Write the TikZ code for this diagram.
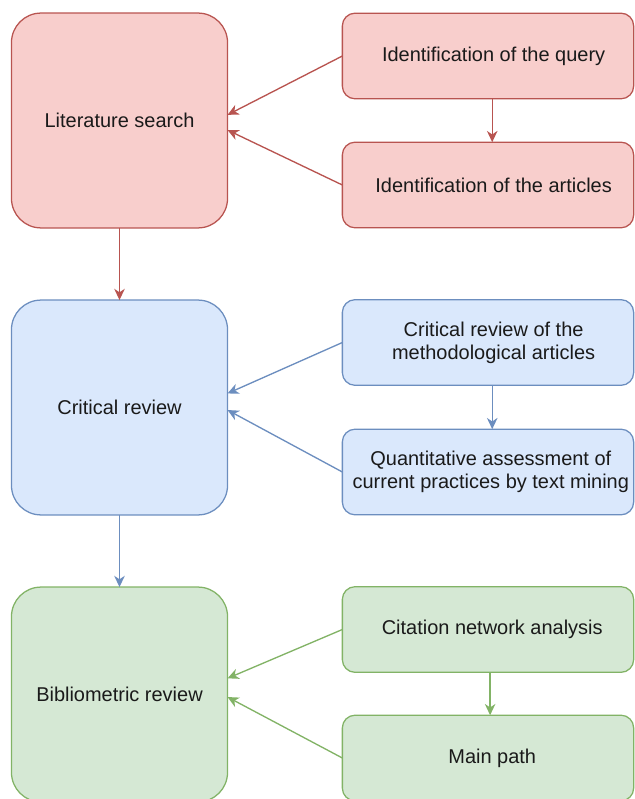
\documentclass[tikz,border=0pt]{standalone}
\usepackage{fontspec}
\setmainfont{Liberation Sans}
\usetikzlibrary{positioning,arrows.meta}
\definecolor{redFill}{HTML}{F8CECC}
\definecolor{redLine}{HTML}{B85450}
\definecolor{blueFill}{HTML}{DAE8FC}
\definecolor{blueLine}{HTML}{6C8EBF}
\definecolor{greenFill}{HTML}{D5E8D4}
\definecolor{greenLine}{HTML}{82B366}
\definecolor{txt}{HTML}{1A1A1A}
\tikzset{
    stageBox/.style={draw, line width=0.9pt, rounded corners=21pt, minimum width=5.4cm, minimum height=5.37cm,
        inner sep=0pt, outer sep=0pt, text=txt, font=\fontsize{14.2}{16.5}\selectfont, align=center},
    taskBox/.style={draw, line width=0.9pt, rounded corners=9pt, minimum width=7.28cm, minimum height=2.14cm,
        inner sep=0pt, outer sep=0pt, text=txt, font=\fontsize{14.2}{16.5}\selectfont, align=center},
    red/.style={fill=redFill, draw=redLine},
    blue/.style={fill=blueFill, draw=blueLine},
    green/.style={fill=greenFill, draw=greenLine},
    link/.style={line width=0.95pt, -{Stealth[length=8pt,width=7.5pt,inset=2.5pt]}}
}

\begin{document}
\begin{tikzpicture}[x=0.025cm, y=-0.025cm]
	\useasboundingbox (0,0) rectangle (635,799);
	% literature search
	\node[stageBox, red] (lit) at (119.5,120.5) {Literature search};
	\node[taskBox, red] (query) at (488,56) {\hspace*{8pt}Identification of the query};
	\node[taskBox, red] (articles) at (488,185) {\hspace*{8pt}Identification of the articles};
	% critical review
	\node[stageBox, blue] (crit) at (119.5,407.5) {Critical review};
	\node[taskBox, blue] (method) at (488,342.5) {\hspace*{8pt}Critical review of the\\\hspace*{8pt}methodological articles};
	\node[taskBox, blue] (quant) at (488,472) {\hspace*{4pt}Quantitative assessment of\\\hspace*{4pt}current practices by text mining};
	% bibliometric review
	\node[stageBox, green] (bib) at (119.5,694.5) {Bibliometric review};
	\node[taskBox, green] (citation) at (488,629.5) {\hspace*{6pt}Citation network analysis};
	\node[taskBox, green] (mainpath) at (488,758) {\hspace*{6pt}Main path};

	\draw[link, redLine] (query.west) -- ([yshift=4pt]lit.east);
	\draw[link, redLine] (articles.west) -- ([yshift=-6.8pt]lit.east);
	\draw[link, redLine] ([xshift=3pt]query.south) -- ([xshift=3pt]articles.north);
	\draw[link, redLine] (lit.south) -- (crit.north);

	\draw[link, blueLine] (method.west) -- ([yshift=10pt]crit.east);
	\draw[link, blueLine] (quant.west) -- ([yshift=-1.8pt]crit.east);
	\draw[link, blueLine] ([xshift=3pt]method.south) -- ([xshift=3pt]quant.north);
	\draw[link, blueLine] (crit.south) -- (bib.north);

	\draw[link, greenLine] (citation.west) -- ([yshift=11.5pt]bib.east);
	\draw[link, greenLine] (mainpath.west) -- ([yshift=-1.8pt]bib.east);
	\draw[link, greenLine] ([xshift=1.5pt]citation.south) -- ([xshift=1.5pt]mainpath.north);
\end{tikzpicture}
\end{document}
